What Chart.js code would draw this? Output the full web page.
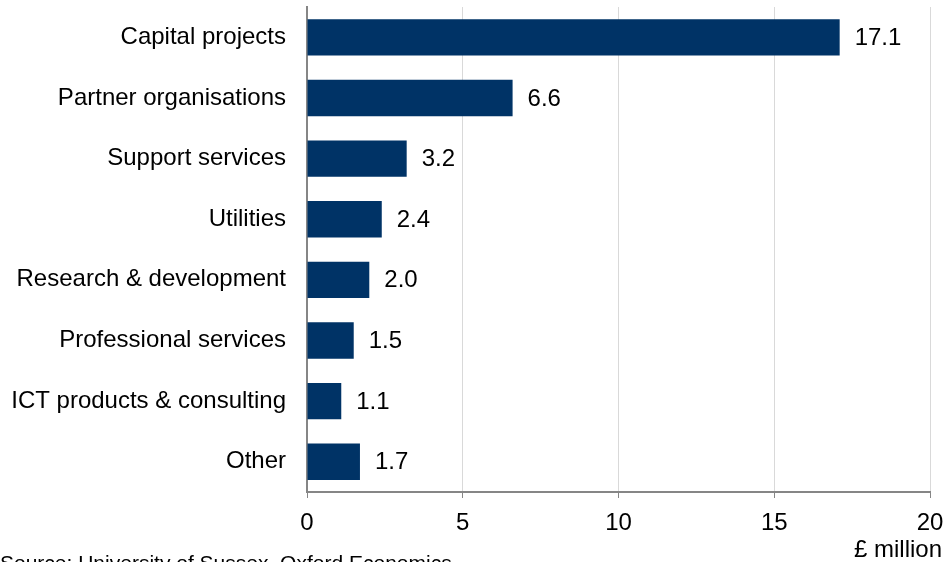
<!DOCTYPE html>
<html>
<head>
<meta charset="utf-8">
<script src="https://cdn.jsdelivr.net/npm/chart.js@4/dist/chart.umd.min.js"></script>
<style>
  html, body { margin: 0; padding: 0; background: #ffffff; }
  #wrap { width: 952px; height: 562px; position: relative; }
</style>
</head>
<body>
<div id="wrap"><canvas id="chart" width="952" height="562"></canvas></div>
<script>
// Spending by category, £ million
const categories = [
  'Capital projects',
  'Partner organisations',
  'Support services',
  'Utilities',
  'Research & development',
  'Professional services',
  'ICT products & consulting',
  'Other'
];
const spend = [17.1, 6.6, 3.2, 2.4, 2.0, 1.5, 1.1, 1.7];
const xTicks = [0, 5, 10, 15, 20];
const unitLabel = '£ million';
const sourceNote = 'Source: University of Sussex, Oxford Economics';

const FONT = '"Liberation Sans", Arial, sans-serif';
const FONT_SIZE = 24;
const BAR_COLOR = '#003366';

// Writes each bar's value just past its end, plus the unit and source notes
const annotations = {
  id: 'annotations',
  afterDatasetsDraw(chart) {
    const ctx = chart.ctx;
    const meta = chart.getDatasetMeta(0);
    ctx.save();
    ctx.fillStyle = '#000000';
    ctx.font = FONT_SIZE + 'px ' + FONT;
    ctx.textAlign = 'left';
    ctx.textBaseline = 'middle';
    meta.data.forEach((bar, i) => {
      ctx.fillText(spend[i].toFixed(1), bar.x + 15, bar.y + 1);
    });
    ctx.textAlign = 'right';
    ctx.textBaseline = 'alphabetic';
    ctx.fillText(unitLabel, 942, 557);
    ctx.font = '21px ' + FONT;
    ctx.textAlign = 'left';
    ctx.fillText(sourceNote, 0, 570);
    ctx.restore();
  }
};

new Chart(document.getElementById('chart'), {
  type: 'bar',
  data: {
    labels: categories,
    datasets: [{
      data: spend,
      backgroundColor: BAR_COLOR,
      borderWidth: 0,
      barPercentage: 0.6,
      categoryPercentage: 1.0
    }]
  },
  options: {
    indexAxis: 'y',
    responsive: false,
    animation: false,
    devicePixelRatio: 1,
    layout: { padding: { top: 7, right: 22, bottom: 0, left: 0 } },
    plugins: {
      legend: { display: false },
      tooltip: { enabled: false }
    },
    scales: {
      x: {
        min: 0,
        max: 20,
        afterBuildTicks(scale) { scale.ticks = xTicks.map(v => ({ value: v })); },
        afterFit(scale) {
          scale.height = 70;
          scale.paddingLeft = 0;
          scale.paddingRight = 0;
        },
        grid: {
          color: '#d9d9d9',
          lineWidth: 1,
          drawTicks: true,
          tickLength: 6,
          tickColor: '#868686'
        },
        border: { display: true, color: '#868686', width: 2 },
        ticks: {
          color: '#000000',
          font: { family: FONT, size: FONT_SIZE },
          padding: 11,
          maxRotation: 0
        }
      },
      y: {
        afterFit(scale) {
          scale.width = 307;
          scale.paddingTop = 0;
          scale.paddingBottom = 0;
        },
        grid: { display: false, drawTicks: false },
        border: { display: true, color: '#868686', width: 2 },
        ticks: {
          color: '#000000',
          font: { family: FONT, size: FONT_SIZE },
          padding: 21,
          autoSkip: false
        }
      }
    }
  },
  plugins: [annotations]
});
</script>
</body>
</html>
